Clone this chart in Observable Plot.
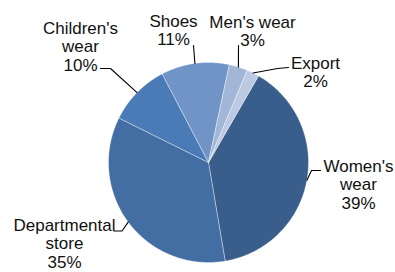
<!DOCTYPE html>
<html>
<head>
<meta charset="utf-8">
<script src="https://cdn.jsdelivr.net/npm/d3@7"></script>
<script src="https://cdn.jsdelivr.net/npm/@observablehq/plot@0.6"></script>
<style>
  html, body { margin: 0; padding: 0; background: #fff; }
  #chart svg { display: block; }
</style>
</head>
<body>
<div id="chart"></div>
<script>
// ---- data ----
const categories = ["Women's wear", "Departmental store", "Children's wear", "Shoes", "Men's wear", "Export"];
const labelNames = ["Women's\nwear", "Departmental\nstore", "Children's\nwear", "Shoes", "Men's wear", "Export"];
const shares = [39, 35, 10, 11, 3, 2];
const colors = ["#3a5e8c", "#426ea4", "#4a7bb7", "#7194c6", "#a2b6d8", "#bcc9e3"];

// ---- layout (radius units, pie centre at 0,0) ----
const labelPos  = [[1.50, -0.22], [-1.44, -0.81], [-1.28, 1.16], [-0.35, 1.325], [0.44, 1.315], [1.07, 0.905]];
const elbowPos  = [[1.03, -0.08], [-0.865, -0.685], [-0.98, 0.94], [-0.15, 1.17], [0.30, 1.17], [0.69, 0.94]];
const endPos    = [[1.12, -0.08], [-0.945, -0.685], [-1.08, 0.94], [-0.15, 1.17], [0.30, 1.17], [0.80, 0.95]];
const startDeg = 30;

const arcs = d3.pie().sort(null)
  .startAngle(startDeg * Math.PI / 180)
  .endAngle((startDeg + 360) * Math.PI / 180)(shares);

const slices = arcs.map((a, i) => {
  const pts = [[0, 0]];
  const n = Math.max(4, Math.ceil((a.endAngle - a.startAngle) / (Math.PI / 360)));
  for (let k = 0; k <= n; k++) {
    const t = a.startAngle + (a.endAngle - a.startAngle) * k / n;
    pts.push([Math.sin(t), Math.cos(t)]);
  }
  pts.push([0, 0]);
  return {cat: categories[i], color: colors[i], pts};
});

const leaders = arcs.map((a, i) => {
  const m = (a.startAngle + a.endAngle) / 2;
  return [[Math.sin(m), Math.cos(m)], elbowPos[i], endPos[i]].map(p => ({cat: categories[i], x: p[0], y: p[1]}));
}).flat();

const labels = categories.map((c, i) => ({
  text: labelNames[i] + "\n" + shares[i] + "%",
  x: labelPos[i][0], y: labelPos[i][1]
}));

const chart = Plot.plot({
  width: 395,
  height: 272,
  margin: 0,
  x: {domain: [-2.08, 1.87], axis: null},
  y: {domain: [-1.10, 1.62], axis: null},
  style: {background: "#fff", fontFamily: "'Liberation Sans', Arial, sans-serif"},
  marks: [
    ...slices.map(s => Plot.line(s.pts, {
      x: d => d[0], y: d => d[1],
      fill: s.color, stroke: "#fff", strokeWidth: 0.8, strokeOpacity: 0.45,
      curve: "linear"
    })),
    Plot.line(leaders, {x: "x", y: "y", z: "cat", stroke: "#000", strokeWidth: 1.1}),
    Plot.text(labels, {
      x: "x", y: "y", text: "text",
      fontSize: 17, lineHeight: 1.08, fill: "#111",
      textAnchor: "middle", lineAnchor: "middle"
    })
  ]
});
document.getElementById("chart").appendChild(chart);
</script>
</body>
</html>
